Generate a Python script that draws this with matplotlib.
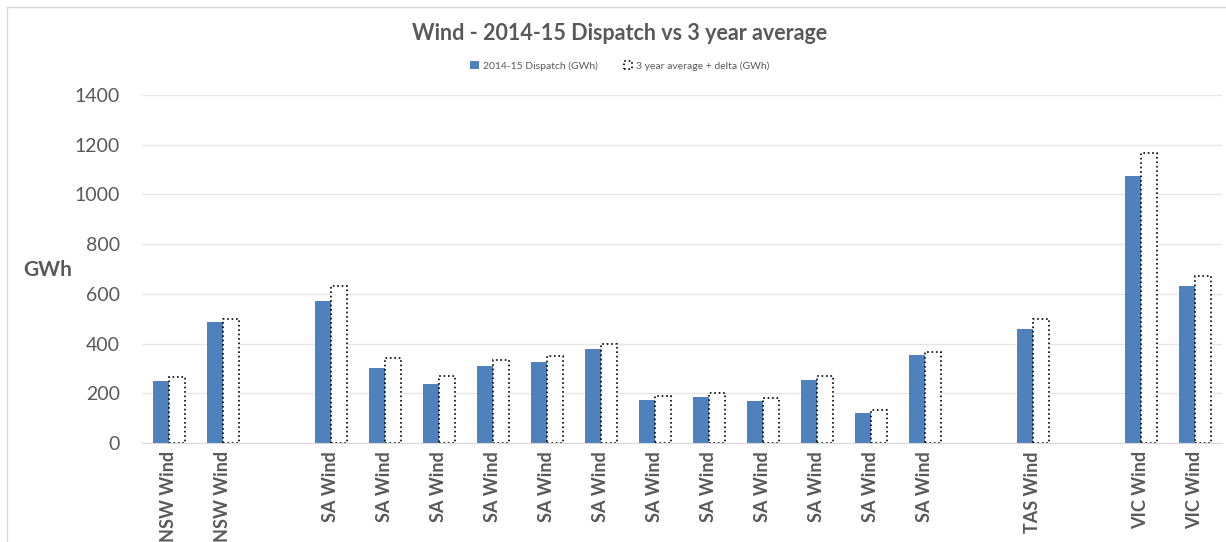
import matplotlib
matplotlib.use("Agg")
import matplotlib.pyplot as plt
import numpy as np

# categories (blank slots are the gaps between regions)
labels = ["NSW Wind", "NSW Wind", "",
          "SA Wind", "SA Wind", "SA Wind", "SA Wind", "SA Wind", "SA Wind",
          "SA Wind", "SA Wind", "SA Wind", "SA Wind", "SA Wind", "SA Wind", "",
          "TAS Wind", "", "VIC Wind", "VIC Wind"]
nan = np.nan
dispatch = [249, 487, nan,
            571, 303, 236, 309, 327, 380, 171, 184, 168, 253, 120, 355, nan,
            460, nan, 1074, 633]
avg_delta = [265, 499, nan,
             633, 343, 271, 332, 351, 400, 191, 200, 183, 271, 132, 367, nan,
             497, nan, 1168, 673]

grey = "#595959"
plt.rcParams["font.family"] = ["Lato", "DejaVu Sans"]

fig = plt.figure(figsize=(12.26, 5.42), dpi=100)
ax = fig.add_axes([142 / 1226, 1 - 443 / 542, 1080 / 1226, 348 / 542])

x = np.arange(len(labels))
w = 0.3
ax.bar(x - w / 2, dispatch, w, color="#4F81BD", label="2014-15 Dispatch (GWh)")
ax.bar(x + w / 2, avg_delta, w, facecolor="white", edgecolor="black",
       linestyle=":", linewidth=1.2, label="3 year average + delta (GWh)")

ax.set_xlim(-0.5, len(labels) - 0.5)
ax.set_ylim(0, 1400)
ax.set_yticks(range(0, 1401, 200))
ax.set_xticks(x)
ax.set_xticklabels(labels, rotation=90, fontsize=13, fontweight="bold", color=grey)
ax.tick_params(axis="y", labelsize=14, labelcolor=grey, length=0, pad=16)
ax.tick_params(axis="x", length=0, pad=6)
ax.grid(axis="y", color="#e6e6e6", linewidth=1)
ax.set_axisbelow(True)
for s in ["top", "right", "left"]:
    ax.spines[s].set_visible(False)
ax.spines["bottom"].set_color("#d9d9d9")

fig.text(48 / 1226, 1 - 270 / 542, "GWh", fontsize=15, fontweight="bold",
         color=grey, ha="center", va="center")
fig.text(620 / 1226, 1 - 33 / 542, "Wind - 2014-15 Dispatch vs 3 year average",
         fontsize=15.5, fontweight="bold", color=grey, ha="center", va="center")
fig.legend(loc="center", bbox_to_anchor=(620 / 1226, 1 - 66 / 542), ncol=2,
           frameon=False, fontsize=7.5, handlelength=0.8, handleheight=0.8,
           labelcolor=grey, columnspacing=2.5, handletextpad=0.4)

# chart frame
fig.add_artist(plt.Rectangle((7 / 1226, -0.05), 1.1, 1 - 7 / 542 + 0.05,
                             transform=fig.transFigure, fill=False,
                             edgecolor="#d9d9d9", linewidth=1))

fig.savefig("out.png", dpi=100)
